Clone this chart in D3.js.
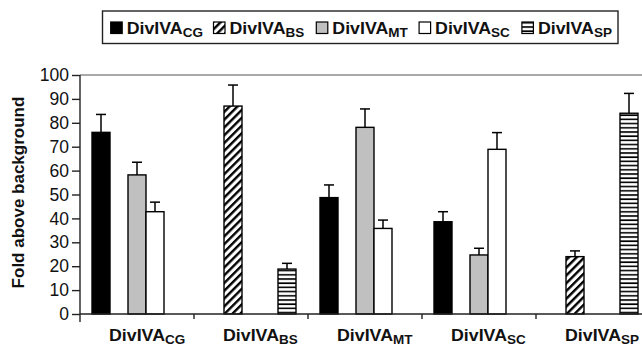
<!DOCTYPE html>
<html>
<head>
<meta charset="utf-8">
<script src="https://cdn.jsdelivr.net/npm/d3@7"></script>
<style>
  body { margin: 0; background: #fff; }
  svg { font-family: "Liberation Sans", Arial, sans-serif; }
</style>
</head>
<body>
<div id="chart"></div>
<script>
// categories (groups on the x axis) and series (bars inside each group)
const groups = ["CG", "BS", "MT", "SC", "SP"];
const series = ["CG", "BS", "MT", "SC", "SP"];

// fold above background, one array per series, indexed by group (null = no bar)
const valuesCG = [76, null, 48.7, 38.6, null];
const valuesBS = [null, 87, null, null, 24];
const valuesMT = [58.2, null, 78.1, 24.7, null];
const valuesSC = [42.8, null, 35.8, 68.9, null];
const valuesSP = [null, 18.8, null, null, 84];

// upper error bar lengths
const errorsCG = [7.5, null, 5.3, 4.2, null];
const errorsBS = [null, 8.8, null, null, 2.4];
const errorsMT = [5.3, null, 7.7, 2.8, null];
const errorsSC = [4, null, 3.5, 7, null];
const errorsSP = [null, 2.4, null, null, 8.3];

const yTicks = [0, 10, 20, 30, 40, 50, 60, 70, 80, 90, 100];

const valueTable = { CG: valuesCG, BS: valuesBS, MT: valuesMT, SC: valuesSC, SP: valuesSP };
const errorTable = { CG: errorsCG, BS: errorsBS, MT: errorsMT, SC: errorsSC, SP: errorsSP };

const width = 642, height = 347;
const margin = { top: 75, left: 80, bottom: 33 };
const plotRight = 650; // plot runs past the picture edge

const svg = d3.select("#chart").append("svg")
  .attr("width", width)
  .attr("height", height);

// patterns
const defs = svg.append("defs");
defs.append("pattern")
  .attr("id", "diag")
  .attr("patternUnits", "userSpaceOnUse")
  .attr("width", 5.5).attr("height", 5.5)
  .attr("patternTransform", "rotate(45)")
  .call(p => {
    p.append("rect").attr("width", 5.5).attr("height", 5.5).attr("fill", "#fff");
    p.append("rect").attr("width", 2.4).attr("height", 5.5).attr("fill", "#000");
  });
defs.append("pattern")
  .attr("id", "horiz")
  .attr("patternUnits", "userSpaceOnUse")
  .attr("width", 4).attr("height", 4.2)
  .call(p => {
    p.append("rect").attr("width", 4).attr("height", 4.2).attr("fill", "#fff");
    p.append("rect").attr("y", 1).attr("width", 4).attr("height", 1.6).attr("fill", "#000");
  });

const fills = { CG: "#000", BS: "url(#diag)", MT: "#c0c0c0", SC: "#fff", SP: "url(#horiz)" };

const y = d3.scaleLinear().domain([0, 100]).range([height - margin.bottom, margin.top]);
const y0 = y(0);

const x0 = d3.scaleBand().domain(groups).range([margin.left, plotRight]).padding(0);
const x1 = d3.scaleBand().domain(series).range([0, x0.bandwidth()])
  .paddingInner(0).paddingOuter(0.667);

// top border line of the plot area
svg.append("line")
  .attr("x1", margin.left).attr("x2", width)
  .attr("y1", y(100)).attr("y2", y(100))
  .attr("stroke", "#8c8c8c").attr("stroke-width", 1.5);

// bars
const barData = [];
groups.forEach((g, gi) => {
  series.forEach(s => {
    const v = valueTable[s][gi];
    if (v == null) return;
    barData.push({ group: g, series: s, value: v, err: errorTable[s][gi] });
  });
});

const bars = svg.append("g");
bars.selectAll("g.err")
  .data(barData)
  .join("g")
  .attr("class", "err")
  .each(function (d) {
    const g = d3.select(this);
    const cx = x0(d.group) + x1(d.series) + x1.bandwidth() / 2;
    g.append("line")
      .attr("x1", cx).attr("x2", cx)
      .attr("y1", y(d.value)).attr("y2", y(d.value + d.err))
      .attr("stroke", "#000").attr("stroke-width", 1.5);
    g.append("line")
      .attr("x1", cx - 5).attr("x2", cx + 5)
      .attr("y1", y(d.value + d.err)).attr("y2", y(d.value + d.err))
      .attr("stroke", "#000").attr("stroke-width", 1.5);
  });

bars.selectAll("rect")
  .data(barData)
  .join("rect")
  .attr("x", d => x0(d.group) + x1(d.series))
  .attr("y", d => y(d.value))
  .attr("width", x1.bandwidth())
  .attr("height", d => y0 - y(d.value))
  .attr("fill", d => fills[d.series])
  .attr("stroke", "#000")
  .attr("stroke-width", 1.4);

// y axis
const yAxis = svg.append("g")
  .attr("transform", `translate(${margin.left},0)`)
  .call(d3.axisLeft(y).tickValues(yTicks).tickSize(8).tickPadding(3).tickFormat(d3.format("d")));
yAxis.select(".domain").attr("stroke", "#222").attr("stroke-width", 1.4)
  .attr("d", `M-0,${y(100)}V${y0 + 8}`);
yAxis.selectAll(".tick line").attr("stroke", "#222").attr("stroke-width", 1.4);
yAxis.selectAll(".tick text")
  .attr("font-size", 17.5)
  .attr("font-family", "Liberation Sans, Arial, sans-serif")
  .attr("fill", "#111");

// x axis
const xAxis = svg.append("g")
  .attr("transform", `translate(0,${y0})`);
xAxis.append("line")
  .attr("x1", margin.left).attr("x2", width)
  .attr("stroke", "#222").attr("stroke-width", 1.4);
xAxis.selectAll("line.tick")
  .data(groups.slice(1))
  .join("line")
  .attr("class", "tick")
  .attr("x1", d => x0(d)).attr("x2", d => x0(d))
  .attr("y1", 0).attr("y2", 5)
  .attr("stroke", "#222").attr("stroke-width", 1.4);

// "DivIVA" + subscript label, main part is 56px wide
function divLabel(t, sub, drop) {
  t.attr("font-weight", "bold").attr("font-size", 17).attr("fill", "#111");
  t.append("tspan").attr("textLength", 56).attr("lengthAdjust", "spacingAndGlyphs").text("DivIVA");
  t.append("tspan").attr("dy", drop).attr("font-size", 13.5).text(sub);
}

// category labels: "DivIVA" centred on the group, subscript hangs to the right
xAxis.selectAll("text.cat")
  .data(groups)
  .join("text")
  .attr("class", "cat")
  .attr("x", d => x0(d) + x0.bandwidth() / 2 - 28)
  .attr("y", 27)
  .each(function (d) { divLabel(d3.select(this), d, 2.5); });

// y axis title
svg.append("text")
  .attr("transform", `translate(24,${(y(100) + y0) / 2 - 2}) rotate(-90)`)
  .attr("text-anchor", "middle")
  .attr("font-weight", "bold")
  .attr("font-size", 17)
  .attr("fill", "#111")
  .text("Fold above background");

// legend
const legend = svg.append("g");
legend.append("rect")
  .attr("x", 102.5).attr("y", 11)
  .attr("width", 515.5).attr("height", 32.5)
  .attr("fill", "#fff")
  .attr("stroke", "#222").attr("stroke-width", 1.4);

const lx = d3.scaleBand().domain(series).range([110.7, 110.7 + 5 * 102.8]);
series.forEach(s => {
  legend.append("rect")
    .attr("x", lx(s)).attr("y", 22)
    .attr("width", 11.5).attr("height", 11.5)
    .attr("fill", fills[s])
    .attr("stroke", "#000").attr("stroke-width", 1.2);
  legend.append("text")
    .attr("x", lx(s) + 16)
    .attr("y", 33.5)
    .call(t => divLabel(t, s, 3.5));
});
</script>
</body>
</html>
